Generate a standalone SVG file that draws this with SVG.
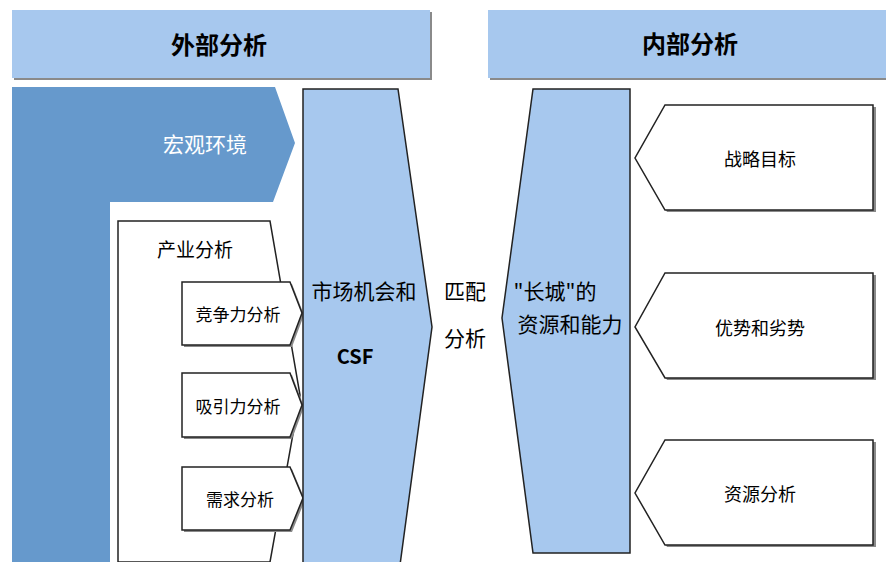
<svg xmlns="http://www.w3.org/2000/svg" width="886" height="562" viewBox="0 0 886 562">
<defs>
<style>
text{font-family:"Noto Sans CJK SC","Liberation Sans",sans-serif;text-anchor:middle;dominant-baseline:central;fill:#000}
.hdr{fill:#a7c8ee}
.sh{fill:#8a8a8a}
.lb{fill:#a7c8ee;stroke:#222;stroke-width:1.5}
.wb{fill:#fff;stroke:#222;stroke-width:1.5}
.h{font-size:24px;font-weight:bold}
.m{font-size:21px}
.s{font-size:17px}
.r{font-size:18px}
</style>
</defs>
<rect width="886" height="562" fill="#fff"/>
<g id="header-external">
<rect class="sh" x="14" y="12" width="418" height="68"/>
<rect class="hdr" x="12" y="10" width="418" height="68"/>
<text class="h" x="219" y="43">外部分析</text>
</g>
<g id="header-internal">
<rect class="sh" x="490" y="12" width="400" height="68"/>
<rect class="hdr" x="488" y="10" width="400" height="68"/>
<text class="h" x="690" y="42">内部分析</text>
</g>
<g id="macro">
<path d="M12 87 H275 L295 143 L273 202 H110 V562 H12 Z" fill="#6699cc"/>
<text x="205" y="143" font-size="21" style="fill:#fff">宏观环境</text>
</g>
<g id="industry">
<path class="wb" d="M118 221 H270 L300 395 L270 562 H118 Z"/>
<text x="195" y="248" font-size="19">产业分析</text>
</g>
<g id="competition">
<path class="sh" d="M184 284 H292 L304 315 L292 347 H184 Z"/>
<path class="wb" d="M182 282 H290 L302 313 L290 345 H182 Z"/>
<text class="s" x="238" y="313">竞争力分析</text>
</g>
<g id="attraction">
<path class="sh" d="M184 375 H292 L304 407 L292 439 H184 Z"/>
<path class="wb" d="M182 373 H290 L302 405 L290 437 H182 Z"/>
<text class="s" x="238" y="405">吸引力分析</text>
</g>
<g id="demand">
<path class="sh" d="M184 469 H292 L305 500 L292 532 H184 Z"/>
<path class="wb" d="M182 467 H290 L303 498 L290 530 H182 Z"/>
<text class="s" x="240" y="498">需求分析</text>
</g>
<g id="market">
<path class="lb" d="M303 89 H398 L432 327 L400 565 H303 Z"/>
<text class="m" x="364" y="290">市场机会和</text>
<text x="355" y="355" font-size="20" font-weight="bold" font-family="Liberation Sans,sans-serif">CSF</text>
</g>
<g id="match">
<text class="m" x="465" y="290">匹配</text>
<text class="m" x="465" y="337">分析</text>
</g>
<g id="resources">
<path class="lb" d="M533 89 H630 V553 H533 L502 318 Z"/>
<text class="m" x="555" y="290">"长城"的</text>
<text class="m" x="570" y="323">资源和能力</text>
</g>
<g id="goal">
<path class="sh" d="M667 107 H876 V212 H667 L638 160 Z"/>
<path class="wb" d="M665 105 H873 V210 H665 L635 158 Z"/>
<text class="r" x="760" y="158">战略目标</text>
</g>
<g id="swot">
<path class="sh" d="M667 275 H876 V380 H667 L638 329 Z"/>
<path class="wb" d="M665 273 H873 V378 H665 L635 327 Z"/>
<text class="r" x="760" y="327">优势和劣势</text>
</g>
<g id="resource-analysis">
<path class="sh" d="M667 442 H876 V547 H667 L638 495 Z"/>
<path class="wb" d="M665 440 H873 V545 H665 L635 493 Z"/>
<text class="r" x="760" y="493">资源分析</text>
</g>
<g id="connectors"></g>
</svg>
